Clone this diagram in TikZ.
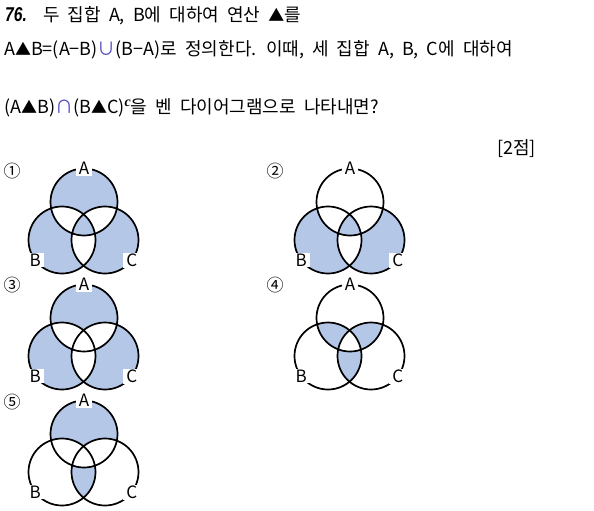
\documentclass[tikz,border=0pt]{standalone}
\usepackage{fontspec}
\setmainfont{Noto Sans CJK KR}[WordSpace=2]
\newfontfamily\numfont{Liberation Sans}
\newfontfamily\supfont{Liberation Serif}
\definecolor{vennfill}{RGB}{180,199,231}
\definecolor{opblue}{RGB}{75,70,190}
\def\vr{33.5pt}
\newcommand{\tri}{{\fontsize{16}{16}\selectfont ▲}}
\newcommand{\opsym}[1]{\textcolor{opblue}{#1}}

\begin{document}
\begin{tikzpicture}%
	[x=1pt, y=-1pt,
	line/.style={line width=1.7pt, black},
	region/.style={fill=vennfill},
	blank/.style={fill=white},
	setlabel/.style={fill=white, inner xsep=3pt, inner ysep=1pt, font=\fontsize{17}{17}\selectfont},
	choice/.style={inner sep=0pt, font=\fontsize{17}{17}\selectfont},
	textline/.style={anchor=base west, inner sep=0pt, font=\fontsize{18}{18}\selectfont}]
%
\useasboundingbox (0,0) rectangle (594,511);
%%
%% The question
%%
\node[textline] (num) at (5,22) {\scalebox{0.78}[1]{\numfont\fontsize{20}{20}\selectfont\bfseries\itshape 76.}};
\node[textline] (line1) at (43,22) {두 집합 A, B에 대하여 연산 \tri 를};
\node[textline] (line2) at (4,56) {A\tri B=(A−B)\opsym{∪}(B−A)로 정의한다. 이때, 세 집합 A, B, C에 대하여};
\node[textline] (line3) at (4,113) {(A\tri B)\opsym{∩}(B\tri C)\raisebox{7pt}{\supfont\fontsize{14}{14}\selectfont\bfseries\itshape c}을 벤 다이어그램으로 나타내면?};
\node[textline, anchor=base east] (score) at (536,154) {[2점]};
%%
%% Coordinate of the centres:
%%
\coordinate (A1) at (84,202);
\coordinate (B1) at (62,240);
\coordinate (C1) at (105,240);
\coordinate (A2) at (350,202);
\coordinate (B2) at (328,240);
\coordinate (C2) at (371,240);
\coordinate (A3) at (84,318);
\coordinate (B3) at (62,356);
\coordinate (C3) at (105,356);
\coordinate (A4) at (350,318);
\coordinate (B4) at (328,356);
\coordinate (C4) at (371,356);
\coordinate (A5) at (84,434);
\coordinate (B5) at (62,472);
\coordinate (C5) at (105,472);
%%
%%
%% Drawing the shaded regions
%%
%% 1
\fill[region, even odd rule] (A1) circle (\vr) (B1) circle (\vr) (C1) circle (\vr);
%% 2
\fill[region, even odd rule] (A2) circle (\vr) (B2) circle (\vr) (C2) circle (\vr);
\fill[blank] (A2) circle (\vr);
\begin{scope}
\clip (A2) circle (\vr);
\clip (B2) circle (\vr);
\fill[region] (C2) circle (\vr);
\end{scope}
%% 3
\fill[region, even odd rule] (A3) circle (\vr) (B3) circle (\vr) (C3) circle (\vr);
\begin{scope}
\clip (A3) circle (\vr);
\clip (B3) circle (\vr);
\fill[blank] (C3) circle (\vr);
\end{scope}
%% 4
\begin{scope}
\clip (A4) circle (\vr);
\fill[region] (B4) circle (\vr);
\fill[region] (C4) circle (\vr);
\end{scope}
\begin{scope}
\clip (B4) circle (\vr);
\fill[region] (C4) circle (\vr);
\end{scope}
\begin{scope}
\clip (A4) circle (\vr);
\clip (B4) circle (\vr);
\fill[blank] (C4) circle (\vr);
\end{scope}
%% 5
\fill[region] (A5) circle (\vr);
\begin{scope}
\clip (A5) circle (\vr);
\fill[blank] (B5) circle (\vr);
\fill[blank] (C5) circle (\vr);
\end{scope}
\begin{scope}
\clip (B5) circle (\vr);
\fill[region] (C5) circle (\vr);
\end{scope}
\begin{scope}
\clip (A5) circle (\vr);
\clip (B5) circle (\vr);
\fill[blank] (C5) circle (\vr);
\end{scope}
%%
%%
%% Drawing the circles
%%
\draw[line] (A1) circle (\vr) (B1) circle (\vr) (C1) circle (\vr);
\draw[line] (A2) circle (\vr) (B2) circle (\vr) (C2) circle (\vr);
\draw[line] (A3) circle (\vr) (B3) circle (\vr) (C3) circle (\vr);
\draw[line] (A4) circle (\vr) (B4) circle (\vr) (C4) circle (\vr);
\draw[line] (A5) circle (\vr) (B5) circle (\vr) (C5) circle (\vr);
%%
%%
%% Drawing the labels
%%
\node[setlabel] (labA1) at ([shift={(90:\vr)}]A1) {A};
\node[setlabel] (labB1) at ([shift={(217:\vr)}]B1) {B};
\node[setlabel] (labC1) at ([shift={(323:\vr)}]C1) {C};
\node[setlabel] (labA2) at ([shift={(90:\vr)}]A2) {A};
\node[setlabel] (labB2) at ([shift={(217:\vr)}]B2) {B};
\node[setlabel] (labC2) at ([shift={(323:\vr)}]C2) {C};
\node[setlabel] (labA3) at ([shift={(90:\vr)}]A3) {A};
\node[setlabel] (labB3) at ([shift={(217:\vr)}]B3) {B};
\node[setlabel] (labC3) at ([shift={(323:\vr)}]C3) {C};
\node[setlabel] (labA4) at ([shift={(90:\vr)}]A4) {A};
\node[setlabel] (labB4) at ([shift={(217:\vr)}]B4) {B};
\node[setlabel] (labC4) at ([shift={(323:\vr)}]C4) {C};
\node[setlabel] (labA5) at ([shift={(90:\vr)}]A5) {A};
\node[setlabel] (labB5) at ([shift={(217:\vr)}]B5) {B};
\node[setlabel] (labC5) at ([shift={(323:\vr)}]C5) {C};
%%
\node[choice] (opt1) at (12,171) {①};
\node[choice] (opt2) at (275,171) {②};
\node[choice] (opt3) at (12,285) {③};
\node[choice] (opt4) at (275,285) {④};
\node[choice] (opt5) at (12,402) {⑤};
%%
\end{tikzpicture}
\end{document}
